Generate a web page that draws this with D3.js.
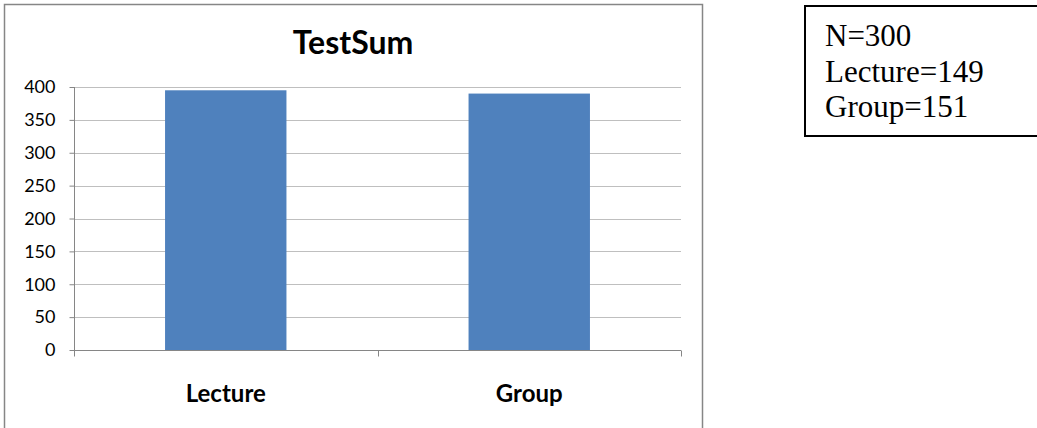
<!DOCTYPE html>
<html>
<head>
<meta charset="utf-8">
<script src="https://cdn.jsdelivr.net/npm/d3@7"></script>
<style>
  html, body { margin: 0; padding: 0; background: #fff; }
  svg { display: block; }
</style>
</head>
<body>
<svg id="chart" width="1037" height="428"></svg>
<script>
const categories = ["Lecture", "Group"];
const values = [395, 390];
const yTicks = [0, 50, 100, 150, 200, 250, 300, 350, 400];
const chartTitle = "TestSum";
const noteLines = ["N=300", "Lecture=149", "Group=151"];

const svg = d3.select("#chart");
const uiFont = "Lato, 'Open Sans', sans-serif";

// outer chart frame
svg.append("rect")
  .attr("x", 4.5).attr("y", 4.5)
  .attr("width", 698).attr("height", 440)
  .attr("fill", "#fff")
  .attr("stroke", "#868686").attr("stroke-width", 1.5);

const x = d3.scaleBand().domain(categories).range([74, 681]).paddingInner(0.6).paddingOuter(0.3);
const y = d3.scaleLinear().domain([0, 400]).range([350, 87]);

// gridlines
svg.append("g").selectAll("line").data(yTicks.filter(d => d > 0)).join("line")
  .attr("x1", 74).attr("x2", 681)
  .attr("y1", d => Math.round(y(d)) + 0.5).attr("y2", d => Math.round(y(d)) + 0.5)
  .attr("stroke", "#bfbfbf").attr("stroke-width", 1.2);

// bars
svg.append("g").selectAll("rect").data(values).join("rect")
  .attr("x", (d, i) => x(categories[i]))
  .attr("width", x.bandwidth())
  .attr("y", d => y(d))
  .attr("height", d => y(0) - y(d))
  .attr("fill", "#4f81bd");

// y axis
const yAxis = d3.axisLeft(y).tickValues(yTicks).tickSize(5).tickPadding(14);
const gy = svg.append("g").attr("transform", "translate(74.5,0)").call(yAxis);
gy.select(".domain").attr("stroke", "#868686").attr("d", `M0,${y(400)}V${y(0)}`);
gy.selectAll(".tick line").attr("stroke", "#868686");
gy.selectAll(".tick text").attr("font-family", uiFont).attr("font-size", 18).attr("fill", "#000");

// x axis
const gx = svg.append("g").attr("transform", `translate(0,${y(0) + 0.5})`);
gx.append("line").attr("x1", 74).attr("x2", 681).attr("stroke", "#868686");
const bounds = [74, (74 + 681) / 2, 681];
gx.selectAll(".xt").data(bounds).join("line").attr("class", "xt")
  .attr("x1", d => Math.round(d) + 0.5).attr("x2", d => Math.round(d) + 0.5)
  .attr("y1", 0).attr("y2", 6).attr("stroke", "#868686");
gx.selectAll("text").data(categories).join("text")
  .attr("x", d => x(d) + x.bandwidth() / 2)
  .attr("y", 51)
  .attr("text-anchor", "middle")
  .attr("font-family", uiFont).attr("font-weight", "bold").attr("font-size", 24)
  .text(d => d);

// title
svg.append("text")
  .attr("x", 353).attr("y", 54)
  .attr("text-anchor", "middle")
  .attr("font-family", uiFont).attr("font-weight", "bold").attr("font-size", 32)
  .text(chartTitle);

// note box
svg.append("rect")
  .attr("x", 805).attr("y", 6)
  .attr("width", 240).attr("height", 130)
  .attr("fill", "#fff").attr("stroke", "#000").attr("stroke-width", 2);
svg.append("g").selectAll("text").data(noteLines).join("text")
  .attr("x", 825).attr("y", (d, i) => 46 + i * 35.5)
  .attr("font-family", "'Liberation Serif', 'Times New Roman', serif")
  .attr("font-size", 31)
  .text(d => d);
</script>
</body>
</html>
